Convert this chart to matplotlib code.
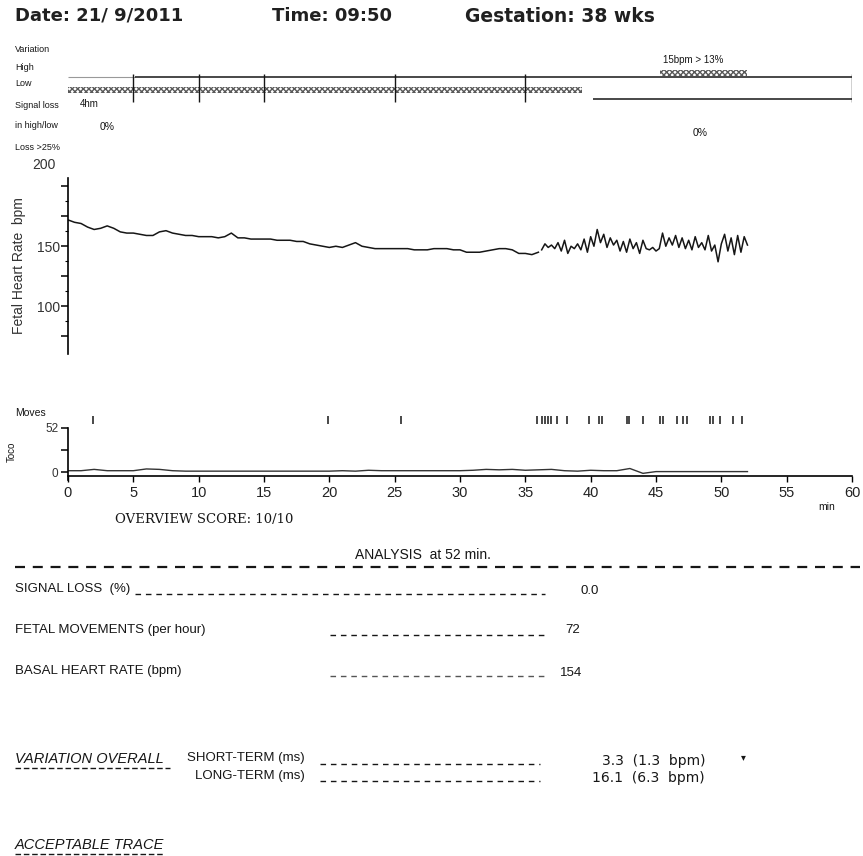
import numpy as np
import matplotlib
matplotlib.use("Agg")
from matplotlib import pyplot as plt
from matplotlib.lines import Line2D

W, H = 863, 856

# ---- values ----
# fetal heart rate, bpm: slow part every 0.5 min, variable part every 0.25 min
fhr_t_slow = np.arange(0, 36.01, 0.5)
fhr_slow = [172, 170, 169, 166, 164, 165, 167, 165, 162, 161, 161, 160, 159, 159,
            162, 163, 161, 160, 159, 159, 158, 158, 158, 157, 158, 161, 157, 157,
            156, 156, 156, 156, 155, 155, 155, 154, 154, 152, 151, 150, 149, 150,
            149, 151, 153, 150, 149, 148, 148, 148, 148, 148, 148, 147, 147, 147,
            148, 148, 148, 147, 147, 145, 145, 145, 146, 147, 148, 148, 147, 144,
            144, 143, 145]
fhr_t_fast = np.arange(36.25, 52.01, 0.25)
fhr_fast = [147, 152, 149, 151, 148, 153, 146, 155, 144, 150, 148, 152, 147, 156,
            145, 158, 150, 164, 153, 160, 149, 157, 151, 155, 146, 154, 145, 156,
            148, 153, 144, 155, 148, 147, 149, 146, 148, 161, 150, 157, 151, 159,
            149, 157, 148, 155, 147, 158, 149, 153, 147, 159, 146, 151, 137, 152,
            160, 146, 157, 143, 159, 145, 158, 151]

# uterine activity (toco), one reading per minute
toco_t = np.arange(0, 53, 1)
toco = [3, 3, 6, 3, 3, 3, 7, 6, 3, 2, 2, 2, 2, 2, 2, 2, 2, 2, 2, 2, 2, 3, 2, 4,
        3, 3, 3, 3, 3, 3, 3, 4, 6, 5, 6, 4, 5, 6, 3, 2, 4, 3, 3, 8, -3, 1, 1, 1,
        1, 1, 1, 1, 1]

# fetal movement marks, minutes
moves_t = [1.9, 19.9, 25.5, 35.9, 36.3, 36.5, 36.7, 37.0, 37.4, 38.2, 39.9, 40.6,
           40.9, 42.8, 42.9, 44.0, 45.3, 45.5, 46.6, 47.1, 47.4, 49.1, 49.4, 49.9,
           50.9, 51.6]

x_ticks = [0, 5, 10, 15, 20, 25, 30, 35, 40, 45, 50, 55, 60]
fhr_ticks = [75, 100, 125, 150, 175, 200]
fhr_tick_labels = ["", "100", "", "150", "", ""]

# variation band (minutes)
band_ticks = [5, 10, 15, 25, 35, 60]
high_faint = (0, 5.1)
high_solid = (5.1, 60)
low_hatch = (0, 39.3)
low_line = (40.2, 60)
high_hatch = (45.3, 52)

NARROW = "Liberation Sans"
INK = "#161616"

fig = plt.figure(figsize=(W / 100, H / 100), dpi=100)


def px_axes(x0, y0, x1, y1):
    """ axes placed by pixel box (top-left origin) """
    return fig.add_axes([x0 / W, 1 - y1 / H, (x1 - x0) / W, (y1 - y0) / H])


def ftext(x, y, s, **kw):
    kw.setdefault("color", INK)
    kw.setdefault("va", "center")
    return fig.text(x / W, 1 - y / H, s, **kw)


def fline(x0, x1, y, **kw):
    kw.setdefault("color", INK)
    fig.add_artist(Line2D([x0 / W, x1 / W], [1 - y / H, 1 - y / H], **kw))


# ---- header ----
head = dict(fontsize=13, family="DejaVu Sans", weight="bold", color="#202020")
ftext(15, 16, "Date: 21/ 9/2011", **head)
ftext(272, 16, "Time: 09:50", **head)
ftext(465, 17, "Gestation: 38 wks", fontsize=13.5, family="DejaVu Sans",
      weight="bold", color="#202020")

# ---- variation band ----
small = dict(fontsize=6.5, family=NARROW)
ftext(15, 49, "Variation", **small)
ftext(15, 67, "High", **small)
ftext(15, 84, "Low", **small)
ftext(15, 106, "Signal loss", **small)
ftext(80, 104, "4hm", fontsize=7, family=NARROW)
ftext(15, 126, "in high/low", **small)
ftext(100, 127, "0%", fontsize=7.5, family=NARROW)
ftext(15, 147, "Loss >25%", **small)
ftext(663, 60, "15bpm > 13%", fontsize=7, family=NARROW)
ftext(693, 133, "0%", fontsize=7.5, family=NARROW)

ax_b = px_axes(68, 55, 852, 105)
ax_b.set_xlim(0, 60)
ax_b.set_ylim(105, 55)
ax_b.axis("off")
ax_b.hlines(77, *high_faint, color="0.6", lw=0.8)
ax_b.hlines(77, *high_solid, color=INK, lw=1.1)
ax_b.broken_barh([(low_hatch[0], low_hatch[1] - low_hatch[0])], (87, 6),
                 facecolor="white", edgecolor="0.35", hatch="xxxxxx", lw=0)
ax_b.hlines(99, *low_line, color=INK, lw=1.1)
ax_b.broken_barh([(high_hatch[0], high_hatch[1] - high_hatch[0])], (70, 6),
                 facecolor="white", edgecolor="0.35", hatch="xxxxxx", lw=0)
ax_b.vlines(band_ticks, 74, 102, color=INK, lw=1.0)

# ---- fetal heart rate ----
ax = px_axes(68, 178, 852, 354)
ax.set_xlim(0, 60)
ax.set_ylim(60, 207)
ax.plot(fhr_t_slow, fhr_slow, color=INK, lw=1.1)
ax.plot(fhr_t_fast, fhr_fast, color=INK, lw=1.1)
for s in ("top", "right", "bottom"):
    ax.spines[s].set_visible(False)
ax.spines["left"].set_linewidth(1.2)
ax.set_xticks([])
ax.set_yticks(fhr_ticks)
ax.set_yticklabels(fhr_tick_labels, family=NARROW, fontsize=10, color="#333333")
ax.set_yticks([87.5, 112.5, 137.5, 162.5, 187.5], minor=True)
ax.tick_params(axis="y", which="major", direction="out", length=5, width=1.1, pad=1)
ax.tick_params(axis="y", which="minor", direction="out", length=2.5, width=0.8)
ax.text(-2.7, 218, "200", family=NARROW, fontsize=10, color="#333333",
        va="center", clip_on=False)
ftext(19, 266, "Fetal Heart Rate  bpm", rotation=90, ha="center",
      fontsize=10, family=NARROW, color="#333333")

# ---- toco + movements ----
ax_t = px_axes(68, 405, 852, 476)
ax_t.set_xlim(0, 60)
ax_t.set_ylim(-9, 152)
ax_t.plot(toco_t, toco, color="#333333", lw=1.0)
ax_t.vlines(moves_t, 108, 128, color=INK, lw=1.1)
for s in ("top", "right"):
    ax_t.spines[s].set_visible(False)
ax_t.spines["left"].set_bounds(-18, 100)
ax_t.spines["left"].set_linewidth(1.2)
ax_t.spines["bottom"].set_linewidth(1.2)
ax_t.set_yticks([0, 50, 100])
ax_t.set_yticklabels(["0", "", "52"], family=NARROW, fontsize=8.5, color="#333333")
ax_t.tick_params(axis="y", direction="out", length=5, width=1.1, pad=2)
ax_t.set_xticks(x_ticks)
ax_t.set_xticklabels([str(v) for v in x_ticks], family=NARROW, fontsize=10.5,
                     color="#222222")
ax_t.tick_params(axis="x", direction="out", length=4, width=1.0, pad=3)
ftext(15, 413, "Moves", fontsize=7.5, family=NARROW)
ftext(12, 452, "Toco", rotation=90, ha="center", fontsize=7, family=NARROW)
ftext(818, 507, "min", fontsize=7.5, family=NARROW)

# ---- analysis printout ----
body = dict(fontsize=9.5, family=NARROW)
ital = dict(fontsize=10.5, family=NARROW, style="italic")
ftext(115, 519, "OVERVIEW SCORE: 10/10", fontsize=9.5, family="DejaVu Serif")
ftext(355, 555, "ANALYSIS  at 52 min.", fontsize=10, family=NARROW)
fline(15, 860, 567, lw=1.6, linestyle=(0, (4.5, 3.5)))

ftext(15, 589, "SIGNAL LOSS  (%)", **body)
fline(135, 545, 594, lw=1.0, linestyle=(0, (4, 3.5)))
ftext(580, 591, "0.0", **body)

ftext(15, 630, "FETAL MOVEMENTS (per hour)", **body)
fline(330, 545, 635, lw=1.0, linestyle=(0, (4, 3.5)))
ftext(565, 630, "72", **body)

ftext(15, 671, "BASAL HEART RATE (bpm)", **body)
fline(330, 545, 676, lw=1.0, linestyle=(0, (4, 3.5)), color="#555555")
ftext(560, 673, "154", **body)

ftext(15, 759, "VARIATION OVERALL", **ital)
fline(15, 170, 768, lw=1.0, linestyle=(0, (4, 2)))
ftext(305, 758, "SHORT-TERM (ms)", ha="right", **body)
fline(320, 540, 764, lw=1.0, linestyle=(0, (4, 3.5)))
ftext(705, 761, "3.3  (1.3  bpm)", ha="right", fontsize=10, family="DejaVu Sans")
ftext(741, 757, "\u25be", fontsize=7, family="DejaVu Sans")
ftext(305, 776, "LONG-TERM (ms)", ha="right", **body)
fline(320, 540, 781, lw=1.0, linestyle=(0, (4, 3.5)))
ftext(705, 778, "16.1  (6.3  bpm)", ha="right", fontsize=10, family="DejaVu Sans")

ftext(15, 845, "ACCEPTABLE TRACE", **ital)
fline(15, 165, 854, lw=1.0, linestyle=(0, (4, 2)))

fig.savefig("out.png", dpi=100, facecolor="white")
